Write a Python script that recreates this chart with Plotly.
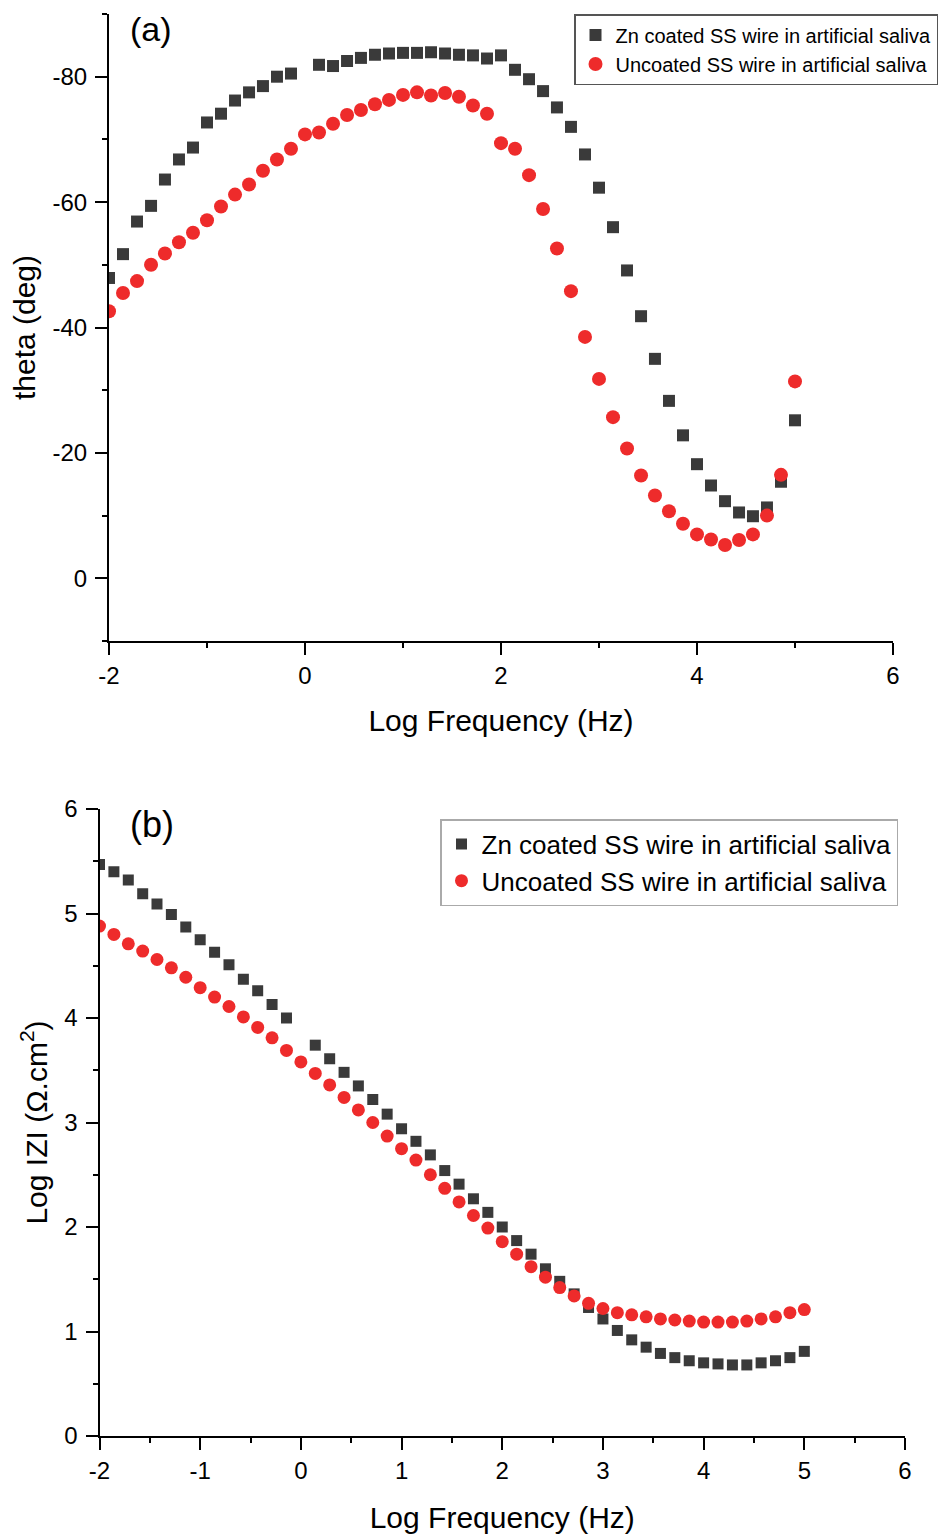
import plotly.graph_objects as go
from plotly.subplots import make_subplots

log_freq = [-2.0, -1.857, -1.714, -1.571, -1.429, -1.286, -1.143, -1.0, -0.857, -0.714,
            -0.571, -0.429, -0.286, -0.143, 0.0, 0.143, 0.286, 0.429, 0.571, 0.714,
            0.857, 1.0, 1.143, 1.286, 1.429, 1.571, 1.714, 1.857, 2.0, 2.143,
            2.286, 2.429, 2.571, 2.714, 2.857, 3.0, 3.143, 3.286, 3.429, 3.571,
            3.714, 3.857, 4.0, 4.143, 4.286, 4.429, 4.571, 4.714, 4.857, 5.0]

theta_zn = [-47.9, -51.7, -56.9, -59.4, -63.6, -66.8, -68.7, -72.7, -74.1, -76.2,
            -77.5, -78.5, -80.0, -80.5, None, -81.9, -81.7, -82.5, -83.0, -83.5,
            -83.7, -83.8, -83.8, -83.9, -83.7, -83.5, -83.4, -82.9, -83.4, -81.1,
            -79.6, -77.7, -75.1, -72.0, -67.6, -62.3, -56.0, -49.1, -41.8, -35.0,
            -28.3, -22.8, -18.2, -14.8, -12.3, -10.5, -9.9, -11.3, -15.4, -25.2]

theta_unc = [-42.6, -45.5, -47.4, -50.0, -51.8, -53.6, -55.1, -57.1, -59.3, -61.2,
             -62.8, -65.0, -66.8, -68.5, -70.8, -71.1, -72.5, -73.9, -74.7, -75.6,
             -76.3, -77.1, -77.5, -77.0, -77.4, -76.8, -75.4, -74.1, -69.4, -68.5,
             -64.3, -58.9, -52.6, -45.8, -38.5, -31.8, -25.7, -20.7, -16.4, -13.2,
             -10.7, -8.7, -7.0, -6.2, -5.3, -6.1, -7.0, -10.0, -16.5, -31.4]

logz_zn = [5.47, 5.40, 5.32, 5.19, 5.09, 4.99, 4.87, 4.75, 4.63, 4.51,
           4.37, 4.26, 4.13, 4.00, None, 3.74, 3.61, 3.48, 3.35, 3.22,
           3.08, 2.94, 2.82, 2.69, 2.54, 2.41, 2.27, 2.14, 2.00, 1.87,
           1.74, 1.60, 1.48, 1.36, 1.23, 1.12, 1.01, 0.92, 0.85, 0.79,
           0.75, 0.72, 0.70, 0.69, 0.68, 0.68, 0.70, 0.72, 0.75, 0.81]

logz_unc = [4.88, 4.80, 4.71, 4.64, 4.56, 4.48, 4.39, 4.29, 4.20, 4.11,
            4.01, 3.91, 3.81, 3.69, 3.58, 3.47, 3.36, 3.24, 3.12, 3.00,
            2.87, 2.75, 2.64, 2.50, 2.37, 2.24, 2.11, 1.99, 1.86, 1.74,
            1.62, 1.52, 1.42, 1.34, 1.27, 1.22, 1.18, 1.16, 1.14, 1.12,
            1.11, 1.10, 1.09, 1.09, 1.09, 1.10, 1.12, 1.14, 1.18, 1.21]

theta_ticks = [-80, -60, -40, -20, 0]
theta_ticktext = ["-80", "-60", "-40", "-20", "0"]
freq_ticks_a = [-2, 0, 2, 4, 6]
freq_ticktext_a = ["-2", "0", "2", "4", "6"]
freq_ticks_b = [-2, -1, 0, 1, 2, 3, 4, 5, 6]
freq_ticktext_b = ["-2", "-1", "0", "1", "2", "3", "4", "5", "6"]
logz_ticks = [0, 1, 2, 3, 4, 5, 6]

name_zn = "Zn coated SS wire in artificial saliva"
name_unc = "Uncoated SS wire in artificial saliva"

SQ = "#3a3a3a"
RED = "#ee2b2b"
FONT = "Liberation Sans, Arial, sans-serif"
W, H = 941, 1540

fig = make_subplots(rows=2, cols=1)

fig.add_trace(go.Scatter(x=log_freq, y=theta_zn, mode="markers", name=name_zn,
                         marker=dict(symbol="square", size=12, color=SQ,
                                     line=dict(width=0)),
                         legend="legend"), row=1, col=1)
fig.add_trace(go.Scatter(x=log_freq, y=theta_unc, mode="markers", name=name_unc,
                         marker=dict(symbol="circle", size=14, color=RED,
                                     line=dict(width=0)),
                         legend="legend"), row=1, col=1)
fig.add_trace(go.Scatter(x=log_freq, y=logz_zn, mode="markers", name=name_zn,
                         marker=dict(symbol="square", size=11, color=SQ,
                                     line=dict(width=0)),
                         legend="legend2"), row=2, col=1)
fig.add_trace(go.Scatter(x=log_freq, y=logz_unc, mode="markers", name=name_unc,
                         marker=dict(symbol="circle", size=13, color=RED,
                                     line=dict(width=0)),
                         legend="legend2"), row=2, col=1)

axis_common = dict(showline=True, linecolor="black", linewidth=2, ticks="outside",
                   tickcolor="black", tickwidth=2, ticklen=12, showgrid=False,
                   zeroline=False, mirror=False, automargin=False,
                   tickfont=dict(size=24, color="black", family=FONT),
                   title_font=dict(size=30, color="black", family=FONT))

minor_common = dict(ticks="outside", ticklen=5, tickwidth=2, tickcolor="black",
                    showgrid=False)

fig.update_xaxes(**axis_common)
fig.update_yaxes(**axis_common)

# Top panel
fig.update_xaxes(row=1, col=1, domain=[109 / W, 893 / W], range=[-2, 6],
                 tickmode="array", tickvals=freq_ticks_a, ticktext=freq_ticktext_a,
                 minor=dict(dtick=1, tick0=-2, **minor_common),
                 title=dict(text="Log Frequency (Hz)", standoff=22),
                 ticklabelstandoff=0)
fig.update_yaxes(row=1, col=1, domain=[1 - 641 / H, 1 - 14 / H], range=[10, -90],
                 tickmode="array", tickvals=theta_ticks, ticktext=theta_ticktext,
                 minor=dict(dtick=10, tick0=0, **minor_common),
                 title=dict(text="theta (deg)", standoff=8),
                 ticklabelstandoff=3)

# Bottom panel
fig.update_xaxes(row=2, col=1, domain=[99.5 / W, 905 / W], range=[-2, 6],
                 tickmode="array", tickvals=freq_ticks_b, ticktext=freq_ticktext_b,
                 minor=dict(dtick=0.5, tick0=-2, **minor_common),
                 title=dict(text="Log Frequency (Hz)", standoff=24),
                 ticklabelstandoff=0)
fig.update_yaxes(row=2, col=1, domain=[1 - 1436 / H, 1 - 809 / H], range=[0, 6],
                 tickmode="array", tickvals=logz_ticks,
                 minor=dict(dtick=0.5, tick0=0, **minor_common),
                 title=dict(text="Log IZI (\u03a9.cm<sup>2</sup>)", standoff=8),
                 ticklabelstandoff=3)

fig.add_annotation(text="(a)", xref="paper", yref="paper", x=128 / W, y=1 - 8 / H,
                   xanchor="left", yanchor="top", showarrow=False,
                   font=dict(size=34, color="black", family=FONT))
fig.add_annotation(text="(b)", xref="paper", yref="paper", x=128 / W, y=1 - 802 / H,
                   xanchor="left", yanchor="top", showarrow=False,
                   font=dict(size=36, color="black", family=FONT))

fig.update_layout(
    width=W, height=H,
    margin=dict(l=0, r=0, t=0, b=0),
    plot_bgcolor="white", paper_bgcolor="white",
    font=dict(family=FONT, color="black"),
    legend=dict(x=938 / W, y=1 - 14 / H, xanchor="right", yanchor="top",
                bgcolor="white", bordercolor="#555555", borderwidth=1.5,
                font=dict(size=20, color="black", family=FONT),
                tracegroupgap=0, itemwidth=30),
    legend2=dict(x=898 / W, y=1 - 819 / H, xanchor="right", yanchor="top",
                 bgcolor="white", bordercolor="#aaaaaa", borderwidth=1.5,
                 font=dict(size=26, color="black", family=FONT),
                 tracegroupgap=0, itemwidth=30),
)

fig.write_html("out.html", config={"displayModeBar": False},
               post_script="document.body.style.margin='0';document.body.style.overflow='hidden';")
